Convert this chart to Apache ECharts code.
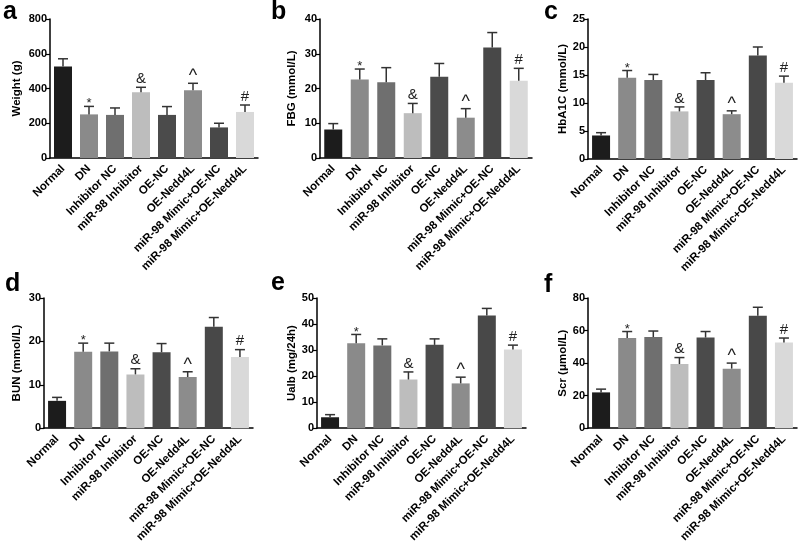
<!DOCTYPE html>
<html><head><meta charset="utf-8">
<script src="https://cdn.jsdelivr.net/npm/echarts@6/dist/echarts.min.js"></script>
<style>html,body{margin:0;padding:0;background:#fff}#c{width:800px;height:545px}</style>
</head><body><div id="c"></div>
<script>
const categories = ['Normal','DN','Inhibitor NC','miR-98 Inhibitor','OE-NC','OE-Nedd4L','miR-98 Mimic+OE-NC','miR-98 Mimic+OE-Nedd4L'];
const sigMarks = ['', '*', '', '&', '', '^', '', '#'];

const weightMean = [526, 251, 248, 378, 248, 390, 176, 265];
const weightErr  = [45, 46, 40, 29, 48, 40, 24, 40];
const fbgMean = [8.2, 22.6, 21.8, 12.9, 23.4, 11.6, 31.8, 22.2];
const fbgErr  = [1.7, 3.0, 4.2, 2.8, 3.8, 2.6, 4.3, 3.6];
const hba1cMean = [4.2, 14.5, 14.1, 8.5, 14.1, 8.0, 18.5, 13.6];
const hba1cErr  = [0.5, 1.3, 1.0, 0.8, 1.3, 0.6, 1.5, 1.2];
const bunMean = [6.3, 17.6, 17.7, 12.4, 17.5, 11.8, 23.4, 16.4];
const bunErr  = [0.8, 2.0, 1.9, 1.3, 2.0, 1.2, 2.1, 1.7];
const ualbMean = [4.2, 32.6, 31.8, 18.7, 32.0, 17.2, 43.3, 30.2];
const ualbErr  = [1.0, 3.4, 2.5, 2.9, 2.3, 2.4, 2.7, 1.7];
const scrMean = [22.0, 55.4, 56.0, 39.4, 55.7, 36.6, 69.1, 52.6];
const scrErr  = [2.0, 4.0, 3.7, 4.0, 3.7, 3.4, 5.2, 2.8];

const yMax = [800, 40, 25, 30, 50, 80];
const yInterval = [200, 10, 5, 10, 10, 20];
const yNames = ['Weight (g)', 'FBG (mmol/L)', 'HbA1C (mmol/L)', 'BUN (mmol/L)', 'Ualb (mg/24h)', 'Scr (\u03bcmol/L)'];
const letters = ['a', 'b', 'c', 'd', 'e', 'f'];

const barColors = ['#1c1c1c', '#8a8a8a', '#6f6f6f', '#bdbdbd', '#4b4b4b', '#8c8c8c', '#484848', '#d9d9d9'];

const means = [weightMean, fbgMean, hba1cMean, bunMean, ualbMean, scrMean];
const errs = [weightErr, fbgErr, hba1cErr, bunErr, ualbErr, scrErr];

// layout (positions only)
const grids = [
  {left: 50, top: 19, width: 208, height: 139},
  {left: 320, top: 19, width: 212, height: 139},
  {left: 588, top: 19, width: 209, height: 140},
  {left: 44, top: 298, width: 209, height: 141},
  {left: 317, top: 298, width: 209, height: 140},
  {left: 588, top: 298, width: 209, height: 140}
];
const nameGaps = [27, 22, 19, 21, 14, 17];
const letterPos = [[3, 0], [271, 0], [544, 0], [5, 272], [271, 271], [544, 273]];

const FONT = '"Liberation Sans", Arial, Helvetica, sans-serif';
const AX = '#000';

const option = {
  animation: false,
  backgroundColor: '#fff',
  grid: [], xAxis: [], yAxis: [], series: [], graphic: []
};

for (let p = 0; p < 6; p++) {
  option.grid.push(Object.assign({containLabel: false}, grids[p]));
  option.xAxis.push({
    type: 'category', gridIndex: p, data: categories,
    axisLine: {lineStyle: {color: AX, width: 1.5}},
    axisTick: {alignWithLabel: true, length: 4, lineStyle: {color: AX, width: 1.2}},
    axisLabel: {interval: 0, rotate: 45, margin: 9, fontFamily: FONT, fontWeight: 'bold', fontSize: 11.5, color: '#000'}
  });
  option.yAxis.push({
    type: 'value', gridIndex: p, min: 0, max: yMax[p], interval: yInterval[p],
    name: yNames[p], nameLocation: 'middle', nameGap: nameGaps[p],
    nameTextStyle: {fontFamily: FONT, fontWeight: 'bold', fontSize: 11.5, color: '#000'},
    splitLine: {show: false},
    axisLine: {show: true, lineStyle: {color: AX, width: 1.5}},
    axisTick: {show: true, length: 4, lineStyle: {color: AX, width: 1.2}},
    axisLabel: {margin: 3, fontFamily: FONT, fontWeight: 'bold', fontSize: 11, color: '#000'}
  });
  const m = means[p], e = errs[p];
  option.series.push({
    type: 'bar', xAxisIndex: p, yAxisIndex: p, barWidth: 18,
    data: m.map((v, i) => ({value: v, itemStyle: {color: barColors[i]}}))
  });
  option.series.push({
    type: 'custom', xAxisIndex: p, yAxisIndex: p, z: 5,
    data: m.map((v, i) => [i, v, e[i]]),
    encode: {x: 0, y: 1},
    renderItem: function (params, api) {
      const i = api.value(0), mv = api.value(1), ev = api.value(2);
      const p0 = api.coord([i, mv]);
      const p1 = api.coord([i, mv + ev]);
      const mark = sigMarks[params.dataIndex];
      const col = '#333';
      const children = [
        {type: 'line', shape: {x1: p0[0], y1: p0[1], x2: p1[0], y2: p1[1]}, style: {stroke: col, lineWidth: 1.5}},
        {type: 'line', shape: {x1: p1[0] - 5, y1: p1[1], x2: p1[0] + 5, y2: p1[1]}, style: {stroke: col, lineWidth: 1.5}}
      ];
      if (mark) {
        const isStar = mark === '*';
        const isCaret = mark === '^';
        children.push({type: 'text', style: {
          text: mark, x: p1[0], y: isStar ? p1[1] + 4 : (isCaret ? p1[1] + 2 : p1[1] - 1),
          align: 'center', verticalAlign: 'bottom',
          font: (isStar ? '13px ' : (isCaret ? '18px ' : '15px ')) + FONT, fill: '#222'
        }});
      }
      return {type: 'group', children: children};
    }
  });
  option.graphic.push({
    type: 'text', left: letterPos[p][0], top: letterPos[p][1],
    style: {text: letters[p], font: 'bold 25px ' + FONT, fill: '#000'}
  });
}

const chart = echarts.init(document.getElementById('c'), null, {renderer: 'canvas'});
chart.setOption(option);
</script>
</body></html>
